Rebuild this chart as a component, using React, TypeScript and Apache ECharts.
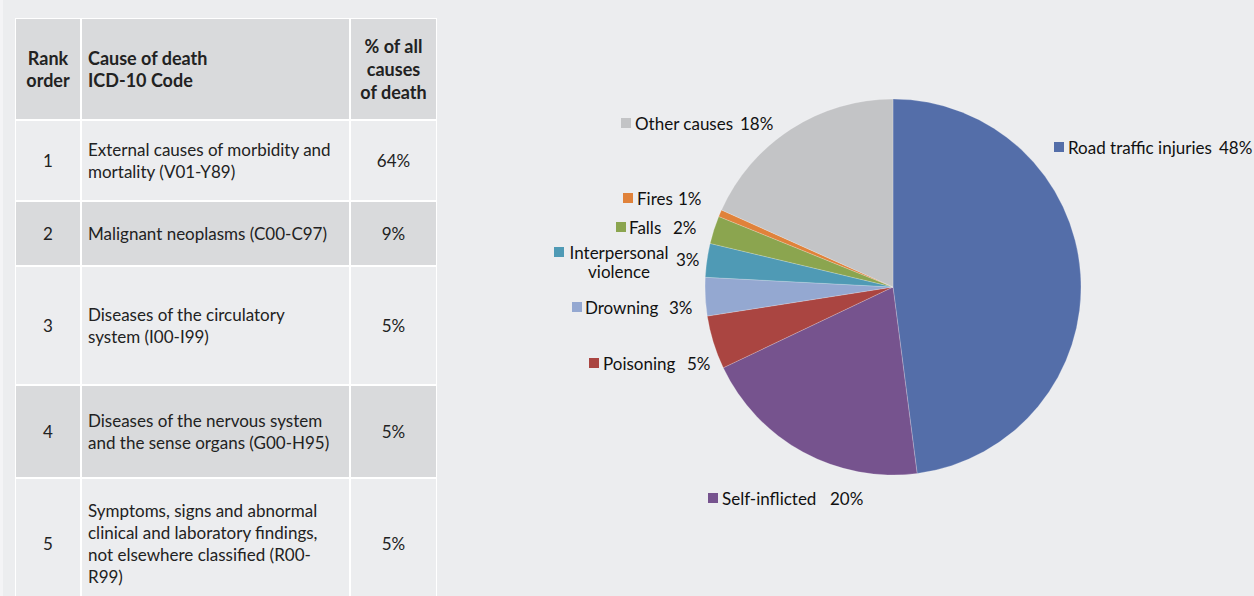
import React, { useEffect, useRef } from "react";
import * as echarts from "echarts";

// ---- Table data ----
const headerLabels = ["Rank\norder", "Cause of death\nICD-10 Code", "% of all\ncauses\nof death"];
const rankOrder = ["1", "2", "3", "4", "5"];
const causeOfDeath = [
  "External causes of morbidity and\nmortality (V01-Y89)",
  "Malignant neoplasms (C00-C97)",
  "Diseases of the circulatory\nsystem (I00-I99)",
  "Diseases of the nervous system\nand the sense organs (G00-H95)",
  "Symptoms, signs and abnormal\nclinical and laboratory findings,\nnot elsewhere classified (R00-\nR99)",
];
const shareOfDeaths = ["64%", "9%", "5%", "5%", "5%"];

// ---- Pie data ----
const pieCategories = [
  "Road traffic injuries",
  "Self-inflicted",
  "Poisoning",
  "Drowning",
  "Interpersonal violence",
  "Falls",
  "Fires",
  "Other causes",
];
const pieValues = [48, 20, 4.6, 3.3, 2.9, 2.4, 0.6, 18.3];
const pieLabelPercents = ["48%", "20%", "5%", "3%", "3%", "2%", "1%", "18%"];
const pieColors = ["#546EA9", "#76538E", "#AA4541", "#94A8D1", "#4F9AB5", "#8BA54F", "#E0823A", "#C3C4C6"];

// ---- Layout (positions/sizes only) ----
const colX = [16, 82, 351];
const colW = [64, 267, 85];
const rowH = [102, 81, 65, 119, 93, 131];
const tableTop = 19;
const labelLayout = [
  { sq: 1054, y: 147, nx: 1068, px: 1219 },
  { sq: 708, y: 498, nx: 722, px: 830 },
  { sq: 589, y: 363, nx: 603, px: 687 },
  { sq: 572, y: 307, nx: 585, px: 669 },
  { sq: 554, y: 252, nx: 619, px: 676 },
  { sq: 616, y: 227, nx: 629, px: 673 },
  { sq: 623, y: 198, nx: 637, px: 678 },
  { sq: 621, y: 123, nx: 635, px: 740 },
];

const FONT = "Lato, 'Liberation Sans', sans-serif";

function txt(x: number, y: number, text: string, opts: any = {}) {
  const align = opts.align || "left";
  return {
    type: "text",
    x,
    y,
    silent: true,
    style: {
      text,
      fill: opts.fill || "#222222",
      fontFamily: FONT,
      fontSize: opts.size || 17,
      fontWeight: opts.weight || "normal",
      lineHeight: opts.lh || 21,
      align,
      textAlign: align,
      verticalAlign: "middle",
      textVerticalAlign: "middle",
    },
  };
}

export default function App() {
  const ref = useRef<HTMLDivElement>(null);

  useEffect(() => {
    document.body.style.margin = "0";
    if (!ref.current) return;
    const chart = echarts.init(ref.current, undefined, { renderer: "svg" });

    const graphics: any[] = [];
    graphics.push({ type: "rect", shape: { x: 0, y: 0, width: 3, height: 596 }, style: { fill: "#F4F4F6" }, silent: true });

    // table
    const totalH = rowH.reduce((a, b) => a + b, 0);
    graphics.push({
      type: "rect",
      shape: { x: colX[0] - 1, y: tableTop - 1, width: colX[2] + colW[2] - colX[0] + 2, height: totalH + 2 },
      style: { fill: "#FFFFFF" },
      silent: true,
    });
    let y = tableTop;
    for (let r = 0; r < rowH.length; r++) {
      const h = rowH[r] - 2;
      const gray = r % 2 === 0;
      for (let c = 0; c < 3; c++) {
        graphics.push({
          type: "rect",
          shape: { x: colX[c], y, width: colW[c], height: h },
          style: { fill: gray ? "#D9DADC" : "#ECEDEF" },
          silent: true,
        });
      }
      const cy = y + h / 2;
      if (r === 0) {
        graphics.push(txt(colX[0] + colW[0] / 2, cy, headerLabels[0], { align: "center", weight: "bold", lh: 22, size: 18 }));
        graphics.push(txt(88, cy, headerLabels[1], { weight: "bold", lh: 22, size: 18 }));
        graphics.push(txt(colX[2] + colW[2] / 2, cy, headerLabels[2], { align: "center", weight: "bold", lh: 23, size: 18 }));
      } else {
        const i = r - 1;
        graphics.push(txt(colX[0] + colW[0] / 2, cy, rankOrder[i], { align: "center" }));
        graphics.push(txt(88, cy, causeOfDeath[i], { lh: 22.3 }));
        graphics.push(txt(colX[2] + colW[2] / 2, cy, shareOfDeaths[i], { align: "center" }));
      }
      y += rowH[r];
    }

    // pie labels
    pieCategories.forEach((name, i) => {
      const L = labelLayout[i];
      graphics.push({
        type: "rect",
        shape: { x: L.sq, y: L.y - 5, width: 10, height: 10 },
        style: { fill: pieColors[i] },
        silent: true,
      });
      if (name === "Interpersonal violence") {
        graphics.push(txt(L.nx, L.y + 9.5, "Interpersonal\nviolence", { align: "center", fill: "#111", lh: 19 }));
        graphics.push(txt(L.px, L.y + 7, pieLabelPercents[i], { fill: "#111" }));
      } else {
        graphics.push(txt(L.nx, L.y, name, { fill: "#111" }));
        graphics.push(txt(L.px, L.y, pieLabelPercents[i], { fill: "#111" }));
      }
    });

    chart.setOption({
      animation: false,
      backgroundColor: "#ECEDEF",
      series: [
        {
          type: "pie",
          center: [893, 287],
          radius: 188,
          startAngle: 90,
          clockwise: true,
          silent: true,
          label: { show: false },
          labelLine: { show: false },
          itemStyle: { borderColor: "rgba(255,255,255,0.35)", borderWidth: 0.6 },
          data: pieCategories.map((name, i) => ({
            name,
            value: pieValues[i],
            itemStyle: { color: pieColors[i] },
          })),
        },
      ],
      graphic: { elements: graphics },
    });

    return () => chart.dispose();
  }, []);

  return <div ref={ref} style={{ width: 1254, height: 596 }} />;
}
